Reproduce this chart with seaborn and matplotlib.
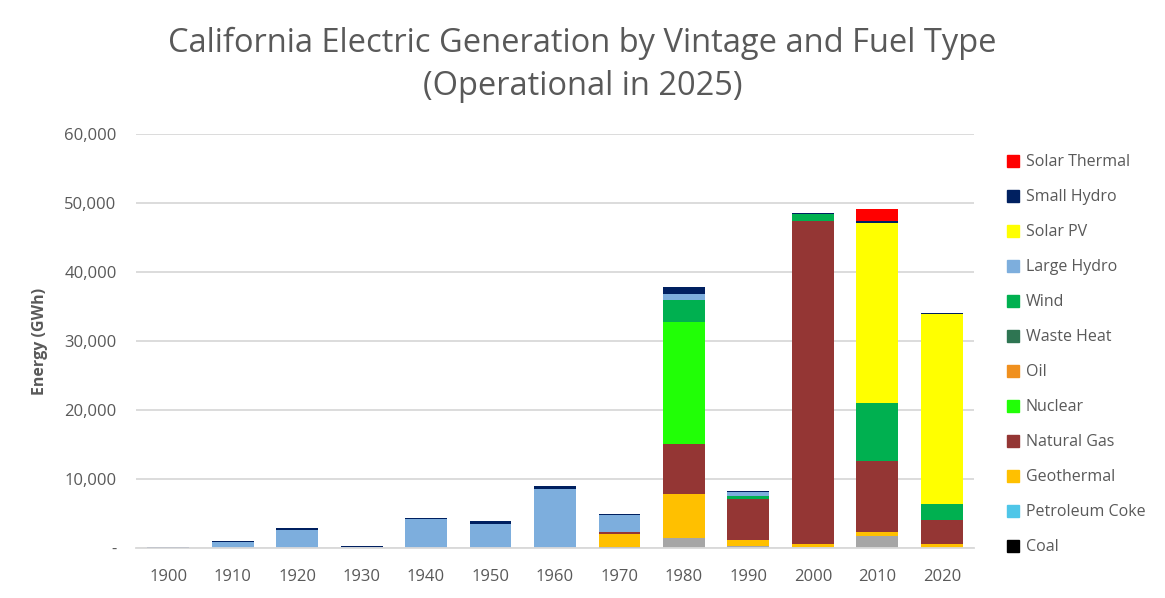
import matplotlib
matplotlib.use("Agg")
import matplotlib.pyplot as plt
import matplotlib.patches as mpatches
from matplotlib.ticker import FuncFormatter
import numpy as np
import pandas as pd
import seaborn as sns

years = ["1900", "1910", "1920", "1930", "1940", "1950", "1960",
         "1970", "1980", "1990", "2000", "2010", "2020"]

# series in stacking order (bottom -> top)
other          = [0, 0, 0, 0, 0, 0, 0, 0, 1450, 290, 190, 1790, 0]
coal           = [0, 0, 0, 0, 0, 0, 0, 200, 0, 0, 0, 0, 0]
petroleum_coke = [0, 0, 0, 0, 0, 0, 0, 0, 0, 0, 0, 0, 0]
geothermal     = [0, 0, 0, 0, 0, 0, 0, 1900, 6380, 870, 430, 580, 630]
natural_gas    = [0, 0, 0, 0, 0, 0, 0, 150, 7250, 6000, 46800, 10290, 3480]
nuclear        = [0, 0, 0, 0, 0, 0, 0, 0, 17680, 0, 0, 0, 0]
oil            = [0, 0, 0, 0, 0, 0, 0, 0, 0, 0, 0, 0, 0]
waste_heat     = [0, 0, 0, 0, 0, 0, 0, 0, 0, 0, 0, 0, 0]
wind           = [0, 0, 0, 0, 0, 0, 0, 0, 3190, 390, 1010, 8400, 2320]
large_hydro    = [50, 850, 2600, 150, 4200, 3450, 8600, 2500, 870, 630, 0, 0, 0]
solar_pv       = [0, 0, 0, 0, 0, 0, 0, 0, 0, 0, 0, 26090, 27540]
small_hydro    = [150, 150, 300, 150, 150, 450, 400, 150, 1060, 150, 190, 190, 150]
solar_thermal  = [0, 0, 0, 0, 0, 0, 0, 0, 0, 0, 0, 1840, 0]

series = [
    ("Other", other, "#A6A6A6", False),
    ("Coal", coal, "#000000", True),
    ("Petroleum Coke", petroleum_coke, "#4FC6E8", True),
    ("Geothermal", geothermal, "#FFC000", True),
    ("Natural Gas", natural_gas, "#943634", True),
    ("Nuclear", nuclear, "#21FF06", True),
    ("Oil", oil, "#F0901E", True),
    ("Waste Heat", waste_heat, "#2E7552", True),
    ("Wind", wind, "#00B050", True),
    ("Large Hydro", large_hydro, "#7DAEDD", True),
    ("Solar PV", solar_pv, "#FFFF00", True),
    ("Small Hydro", small_hydro, "#002060", True),
    ("Solar Thermal", solar_thermal, "#FF0000", True),
]

sns.set_style("white")
plt.rcParams["font.family"] = ["Open Sans", "DejaVu Sans"]

fig = plt.figure(figsize=(11.65, 5.98), dpi=100)
ax = fig.add_axes([136 / 1165, 50 / 598, (974 - 136) / 1165, (548 - 134) / 598])

bottom = np.zeros(len(years))
handles = []
for name, vals, color, in_leg in series:
    vals = np.array(vals, dtype=float)
    df = pd.DataFrame({"year": years, "val": vals})
    sns.barplot(data=df, x="year", y="val", order=years, color=color,
                width=0.65, bottom=bottom, ax=ax, saturation=1,
                linewidth=0, errorbar=None)
    bottom = bottom + vals
    if in_leg:
        handles.append(mpatches.Patch(color=color, label=name))

ax.set_ylim(0, 60000)
ax.set_xlim(-0.5, len(years) - 0.5)
ax.set_yticks(range(0, 60001, 10000))
ax.yaxis.set_major_formatter(FuncFormatter(lambda v, p: "-" if v == 0 else f"{int(v):,}"))
ax.grid(axis="y", color="#D9D9D9", linewidth=1.3)
ax.set_axisbelow(True)
for s in ["top", "right", "left"]:
    ax.spines[s].set_visible(False)
ax.spines["bottom"].set_color("#D9D9D9")
ax.spines["bottom"].set_linewidth(1.3)
ax.tick_params(axis="both", length=0, labelsize=12, labelcolor="#595959")
ax.tick_params(axis="x", pad=15)
ax.tick_params(axis="y", pad=14)
ax.set_xlabel("")
ax.set_ylabel("Energy (GWh)", fontsize=11.5, fontweight="bold", color="#595959", labelpad=12)

fig.text(0.5, 1 - 65 / 598, "California Electric Generation by Vintage and Fuel Type\n(Operational in 2025)",
         ha="center", va="center", fontsize=23.5, color="#595959", linespacing=1.4)

leg = fig.legend(handles=handles[::-1], loc="upper left",
                 bbox_to_anchor=(993 / 1165, 1 - 140 / 598), frameon=False,
                 fontsize=11.5, labelcolor="#595959", handlelength=0.75,
                 handleheight=0.75, handletextpad=0.4, labelspacing=1.19)

fig.savefig("out.png", dpi=100)
